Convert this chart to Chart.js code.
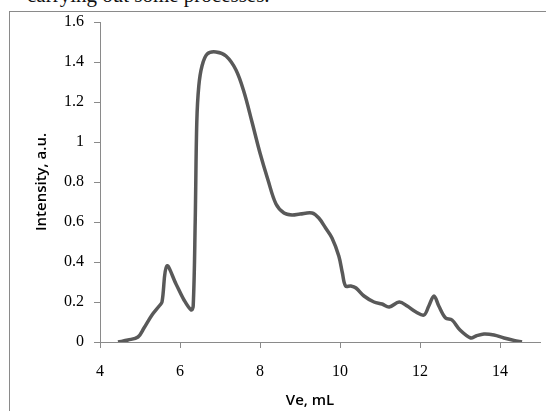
<!DOCTYPE html>
<html>
<head>
<meta charset="utf-8">
<script src="https://cdn.jsdelivr.net/npm/chart.js@4/dist/chart.umd.min.js"></script>
<style>
  html, body { margin: 0; padding: 0; background: #fff; width: 546px; height: 411px; overflow: hidden; }
  #frame { position: absolute; left: 9px; top: 11px; width: 600px; height: 500px; border: 1px solid #8a8a8a; }
  #caption { position: absolute; left: 27px; top: -17px; font-family: "Liberation Serif", serif; font-size: 21px; color: #111; white-space: nowrap; line-height: 24px; }
  #wrap { position: absolute; left: 0; top: 0; width: 546px; height: 411px; }
</style>
</head>
<body>
<div id="caption">carrying out some processes.</div>
<div id="frame"></div>
<div id="wrap"><canvas id="c" width="546" height="411"></canvas></div>
<script>
const veValues = [4.45,4.7,4.95,5.1,5.3,5.48,5.55,5.67,5.9,6.1,6.28,6.33,6.38,6.42,6.47,6.55,6.68,6.9,7.15,7.4,7.6,7.8,8.0,8.2,8.4,8.6,8.8,9.0,9.3,9.47,9.64,9.8,9.97,10.06,10.14,10.27,10.4,10.6,10.85,11.05,11.23,11.48,11.68,11.9,12.1,12.22,12.35,12.47,12.64,12.8,13.0,13.27,13.4,13.6,13.85,14.1,14.35,14.55];
const intensityValues = [0,0.01,0.025,0.07,0.135,0.18,0.2,0.38,0.29,0.21,0.16,0.18,0.6,1.1,1.28,1.38,1.44,1.45,1.43,1.36,1.25,1.1,0.945,0.81,0.69,0.645,0.635,0.64,0.645,0.62,0.57,0.52,0.43,0.345,0.28,0.28,0.27,0.23,0.2,0.19,0.175,0.2,0.18,0.15,0.135,0.18,0.23,0.18,0.12,0.11,0.06,0.02,0.03,0.04,0.035,0.02,0.008,0];
const xTickValues = [4,6,8,10,12,14];
const yTickValues = [0,0.2,0.4,0.6,0.8,1,1.2,1.4,1.6];
const xTitle = "Ve, mL";
const yTitle = "Intensity, a.u.";

const points = veValues.map((v, i) => ({x: v, y: intensityValues[i]}));
const axisColor = '#8a8a8a';
const tickFont = {family: '"Liberation Serif", serif', size: 16};
const titleFont = {family: '"Open Sans", sans-serif', size: 15, weight: '600'};

const shiftXTitle = {
  id: 'shiftXTitle',
  beforeDraw(chart) {
    const s = chart.scales.x;
    if (s._shiftWrapped) return;
    const orig = s.drawTitle;
    s.drawTitle = function () {
      const l = this.left, r = this.right;
      this.left = l - 10; this.right = r - 10;
      orig.call(this);
      this.left = l; this.right = r;
    };
    s._shiftWrapped = true;
  }
};

new Chart(document.getElementById('c'), {
  type: 'line',
  data: {
    datasets: [{
      data: points,
      borderColor: '#595959',
      borderWidth: 3.5,
      pointRadius: 0,
      fill: false,
      tension: 0.35
    }]
  },
  plugins: [shiftXTitle],
  options: {
    responsive: false,
    animation: false,
    events: [],
    layout: { padding: { left: 0, right: 6, top: 22, bottom: 0 } },
    plugins: { legend: { display: false }, tooltip: { enabled: false } },
    scales: {
      x: {
        type: 'linear', min: 4, max: 15,
        afterBuildTicks: s => { s.ticks = xTickValues.map(v => ({value: v})); },
        afterFit: s => { s.height = 69; },
        border: { display: true, color: axisColor, width: 1 },
        grid: { display: true, drawOnChartArea: false, drawTicks: true, tickLength: 6, color: axisColor },
        ticks: { font: tickFont, color: '#000', padding: 14, maxRotation: 0, callback: v => String(v) },
        title: { display: true, text: xTitle, font: titleFont, color: '#000', padding: { top: 0, bottom: 1 } }
      },
      y: {
        type: 'linear', min: 0, max: 1.6,
        afterBuildTicks: s => { s.ticks = yTickValues.map(v => ({value: v})); },
        afterFit: s => { s.width = 100; },
        border: { display: true, color: axisColor, width: 1 },
        grid: { display: true, drawOnChartArea: false, drawTicks: true, tickLength: 6, color: axisColor },
        ticks: { font: tickFont, color: '#000', padding: 10, callback: v => String(Math.round(v * 10) / 10) },
        title: { display: true, text: yTitle, font: titleFont, color: '#000', padding: { top: 33, bottom: 0 } }
      }
    }
  }
});
</script>
</body>
</html>
